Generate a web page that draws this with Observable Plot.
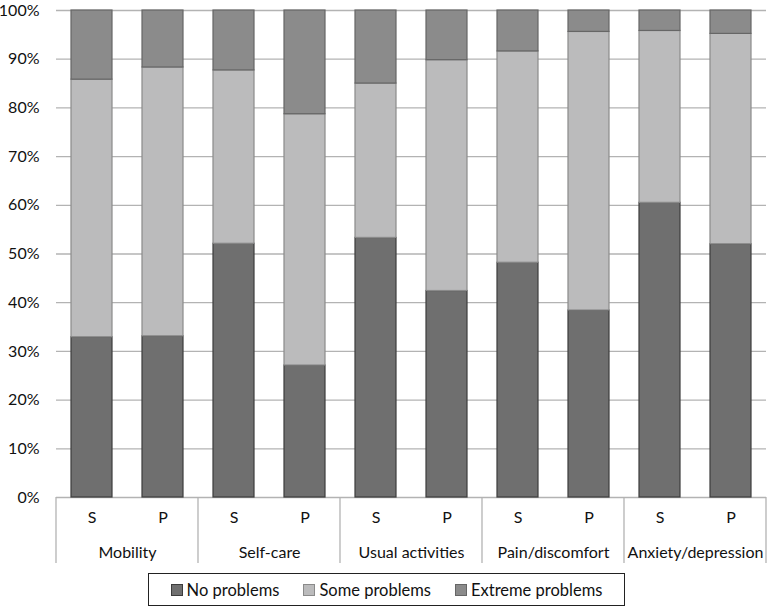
<!DOCTYPE html>
<html>
<head>
<meta charset="utf-8">
<script src="https://cdn.jsdelivr.net/npm/d3@7"></script>
<script src="https://cdn.jsdelivr.net/npm/@observablehq/plot@0.6"></script>
<style>
  html, body { margin: 0; padding: 0; background: #fff; }
  body { width: 777px; font-family: Lato, "Open Sans", sans-serif; }
  #legend {
    position: absolute; left: 148px; top: 573px; width: 475px; height: 31px;
    border: 1px solid #222; display: flex; align-items: center; justify-content: center;
    gap: 24px; font-size: 16.5px; color: #111; box-sizing: content-box;
  }
  .item { display: flex; align-items: center; gap: 4px; }
  .sw { width: 10px; height: 10px; border: 1px solid; display: inline-block; }
</style>
</head>
<body>
<div id="chart"></div>
<div id="legend"></div>
<script>
const dimensions = ["Mobility", "Self-care", "Usual activities", "Pain/discomfort", "Anxiety/depression"];
const respondents = ["S", "P"];
const seriesNames = ["No problems", "Some problems", "Extreme problems"];
// bars in order: Mobility S, Mobility P, Self-care S, Self-care P, ...
const noProblems = [32.9, 33.1, 52.1, 27.1, 53.3, 42.4, 48.2, 38.4, 60.5, 52.0];
const someProblems = [52.9, 55.2, 35.6, 51.6, 31.7, 47.4, 43.4, 57.2, 35.3, 43.2];
const extremeProblems = [14.2, 11.7, 12.3, 21.3, 15.0, 10.2, 8.4, 4.4, 4.2, 4.8];
const yTicks = [0, 10, 20, 30, 40, 50, 60, 70, 80, 90, 100];

const fills = ["#6f6f6f", "#bbbbbc", "#8b8b8b"];
const strokes = ["#3c3c3c", "#8a8a8a", "#666666"];

const seriesValues = [noProblems, someProblems, extremeProblems];
const table = [];
seriesValues.forEach((vals, s) => {
  vals.forEach((v, i) => {
    table.push({
      dimension: dimensions[Math.floor(i / 2)],
      respondent: respondents[i % 2],
      series: s,
      value: v
    });
  });
});

const plot = Plot.plot({
  width: 777,
  height: 569,
  marginLeft: 54,
  marginRight: 10,
  marginTop: 10,
  marginBottom: 72,
  style: { fontFamily: "Lato, 'Open Sans', sans-serif", fontSize: "16px", color: "#111", background: "#fff" },
  fx: { domain: dimensions, padding: 0 },
  x: { domain: respondents, paddingInner: 0.42, paddingOuter: 0.21 },
  y: { domain: [0, 100] },
  marks: [
    Plot.gridY(yTicks, { stroke: "#b3b3b3", strokeOpacity: 1, strokeWidth: 1.3 }),
    Plot.barY(table, Plot.stackY({
      fx: "dimension",
      x: "respondent",
      y: "value",
      order: null,
      fill: d => fills[d.series],
      stroke: d => strokes[d.series],
      strokeWidth: 1.2,
      inset: 0
    })),
    Plot.axisY(yTicks, { tickSize: 0, tickPadding: 17, tickFormat: d => d + "%", label: null }),
    Plot.axisX({ tickSize: 0, tickPadding: 14, label: null }),
    Plot.axisFx({ anchor: "bottom", tickSize: 0, tickPadding: 49, label: null })
  ]
});

document.getElementById("chart").appendChild(plot);

// category separators below the baseline, at facet boundaries
const fx = plot.scale("fx");
const y = plot.scale("y");
const svg = d3.select(plot);
const y0 = y.apply(0);
const bounds = dimensions.map(d => fx.apply(d));
bounds.push(fx.apply(dimensions[dimensions.length - 1]) + fx.bandwidth);
svg.append("g")
  .attr("stroke", "#b3b3b3")
  .attr("stroke-width", 1.3)
  .selectAll("line")
  .data(bounds)
  .join("line")
  .attr("x1", d => d).attr("x2", d => d)
  .attr("y1", y0).attr("y2", y0 + 66);

// legend
const legend = d3.select("#legend");
seriesNames.forEach((name, i) => {
  const it = legend.append("div").attr("class", "item");
  it.append("span").attr("class", "sw").style("background", fills[i]).style("border-color", strokes[i]);
  it.append("span").text(name);
});
</script>
</body>
</html>
